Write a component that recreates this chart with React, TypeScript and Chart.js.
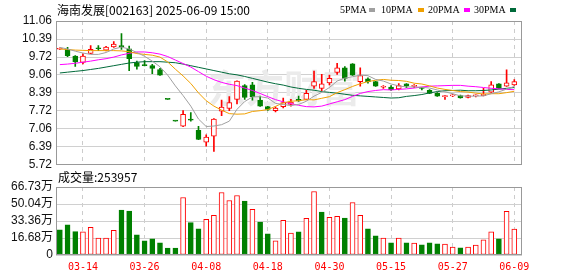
import React, { useEffect, useRef } from 'react';
import { Chart, registerables } from 'chart.js';
Chart.register(...registerables);

const dates = [
  '03-11','03-12','03-13','03-14','03-17','03-18','03-19','03-20','03-21','03-24',
  '03-25','03-26','03-27','03-28','03-31','04-01','04-02','04-03','04-07','04-08',
  '04-09','04-10','04-11','04-14','04-15','04-16','04-17','04-18','04-21','04-22',
  '04-23','04-24','04-25','04-28','04-29','04-30','05-06','05-07','05-08','05-09',
  '05-12','05-13','05-14','05-15','05-16','05-19','05-20','05-21','05-22','05-23',
  '05-26','05-27','05-28','05-29','05-30','06-03','06-04','06-05','06-06','06-09'
];
const xTickLabels = ['03-14','03-26','04-08','04-18','04-30','05-15','05-27','06-09'];

const opens = [
  10.01,10.01,9.76,9.52,9.86,10.05,9.98,10.10,10.14,10.03,
  9.52,9.41,9.40,9.26,8.15,7.34,7.15,7.40,7.00,6.56,
  6.78,7.71,7.81,8.15,8.66,8.69,8.12,7.88,7.73,7.88,
  7.96,8.15,8.15,8.64,8.56,8.76,9.15,9.32,9.47,8.81,
  8.91,8.81,8.60,8.61,8.54,8.73,8.63,8.57,8.49,8.37,
  8.25,8.28,8.29,8.22,8.28,8.29,8.42,8.73,8.64,8.69
];
const highs = [
  10.06,10.08,9.78,9.84,10.15,10.15,10.12,10.30,10.59,10.13,
  9.57,9.59,9.45,9.30,8.15,7.34,7.73,7.66,7.15,6.83,
  7.44,8.12,8.25,8.84,8.70,8.78,8.27,7.89,7.87,8.20,
  8.15,8.27,8.49,9.20,9.08,9.05,9.49,9.37,9.48,9.32,
  8.95,8.82,8.66,8.66,8.74,8.74,8.70,8.60,8.51,8.40,
  8.30,8.33,8.31,8.31,8.32,8.56,8.81,8.74,9.25,8.88
];
const lows = [
  10.00,9.74,9.37,9.47,9.85,9.96,9.95,10.08,10.00,9.22,
  9.27,9.39,9.10,9.04,8.15,7.34,7.14,7.34,6.65,6.41,
  6.22,7.54,7.73,7.98,8.15,8.12,7.89,7.74,7.68,7.83,
  7.90,8.07,8.13,8.56,8.47,8.69,9.08,8.83,9.04,8.64,
  8.75,8.63,8.56,8.48,8.50,8.58,8.58,8.50,8.36,8.26,
  8.15,8.25,8.19,8.20,8.24,8.28,8.41,8.55,8.63,8.67
];
const closes = [
  10.04,9.77,9.54,9.76,10.01,10.03,10.09,10.20,10.11,9.66,
  9.37,9.40,9.30,9.05,8.15,7.34,7.59,7.38,6.66,6.75,
  7.42,7.86,8.03,8.83,8.22,8.25,7.90,7.78,7.83,8.03,
  8.05,8.10,8.37,8.81,8.73,8.93,9.32,8.93,9.05,9.03,
  8.81,8.64,8.61,8.51,8.66,8.64,8.64,8.56,8.37,8.27,
  8.29,8.29,8.20,8.29,8.29,8.34,8.69,8.56,8.76,8.81
];

const ma5 = [
  10.08,10.02,9.94,9.87,9.82,9.82,9.89,10.02,10.09,10.02,
  9.89,9.75,9.57,9.36,9.05,8.65,8.29,7.90,7.42,7.14,
  7.16,7.21,7.34,7.78,8.07,8.24,8.25,8.20,8.00,7.96,
  7.92,7.96,8.08,8.27,8.41,8.59,8.83,8.94,8.99,9.05,
  9.03,8.89,8.83,8.72,8.65,8.61,8.61,8.60,8.57,8.50,
  8.43,8.36,8.28,8.27,8.27,8.28,8.36,8.43,8.53,8.63
];
const ma10 = [
  10.02,10.00,9.98,9.97,9.96,9.96,9.96,9.96,9.95,9.92,
  9.85,9.82,9.79,9.72,9.54,9.27,9.02,8.74,8.39,8.10,
  7.90,7.75,7.62,7.60,7.61,7.70,7.73,7.77,7.89,8.02,
  8.08,8.10,8.14,8.13,8.19,8.25,8.40,8.51,8.63,8.73,
  8.81,8.86,8.89,8.86,8.85,8.82,8.75,8.72,8.65,8.57,
  8.52,8.48,8.44,8.42,8.38,8.35,8.36,8.36,8.40,8.45
];
const ma20 = [
  9.44,9.46,9.49,9.53,9.57,9.62,9.66,9.72,9.80,9.86,
  9.91,9.91,9.88,9.83,9.74,9.61,9.48,9.35,9.18,9.01,
  8.88,8.78,8.71,8.66,8.57,8.48,8.37,8.25,8.14,8.06,
  7.99,7.93,7.88,7.87,7.90,7.98,8.06,8.14,8.26,8.37,
  8.44,8.48,8.51,8.50,8.52,8.54,8.57,8.61,8.64,8.65,
  8.66,8.67,8.67,8.64,8.62,8.59,8.56,8.54,8.52,8.51
];
const ma30 = [
  9.13,9.16,9.19,9.22,9.26,9.30,9.35,9.40,9.45,9.50,
  9.53,9.55,9.55,9.55,9.53,9.51,9.46,9.40,9.34,9.28,
  9.22,9.16,9.10,9.06,9.00,8.93,8.86,8.79,8.73,8.68,
  8.61,8.56,8.52,8.49,8.44,8.41,8.38,8.34,8.30,8.28,
  8.26,8.24,8.22,8.20,8.21,8.26,8.29,8.33,8.39,8.44,
  8.47,8.48,8.49,8.47,8.47,8.48,8.50,8.53,8.56,8.59
];

// volume in 万 (10k)
const volumes = [
  24.6,29.5,23.0,22.7,27.2,16.5,16.5,24.3,44.1,43.1,
  19.7,13.9,15.9,12.0,6.8,6.8,56.4,31.7,25.6,35.0,
  38.9,61.3,53.5,58.4,52.8,44.7,32.4,20.7,13.9,34.0,
  21.4,22.7,36.0,62.3,42.1,37.0,37.9,36.3,51.5,38.9,
  25.6,18.8,16.5,12.0,16.5,12.0,11.7,10.0,12.0,11.0,
  10.7,7.8,7.1,7.8,9.7,14.9,22.7,15.9,42.8,25.4
];
// 1 = red (up) volume bar, 0 = green
const volumeUp = [
  0,0,0,1,1,1,1,1,0,0,
  0,0,0,0,0,0,1,0,0,1,
  1,1,1,1,0,1,0,0,1,1,
  1,0,1,1,0,1,1,0,1,1,
  0,0,1,0,1,0,1,0,0,0,
  1,1,0,1,1,1,1,0,1,1
];
const lastVolume = 253957;

const priceTicks = [5.72, 6.39, 7.06, 7.72, 8.39, 9.06, 9.72, 10.39, 11.06];
const volumeTicks = [0, 16.68, 33.36, 50.04, 66.73];

const seriesLegend = [
  { label: '5PMA', color: '#a0a0a0' },
  { label: '10PMA', color: '#f0a000' },
  { label: '20PMA', color: '#ff00ff' },
  { label: '30PMA', color: '#006a3a' },
];

const RED = '#ff0000';
const GREEN = '#008000';

const framePlugin = (color: string) => ({
  id: 'frame',
  afterDraw(chart: any) {
    const { ctx, chartArea } = chart;
    const l = Math.round(chartArea.left) + 0.5;
    const t = Math.round(chartArea.top) + 0.5;
    const r = Math.round(chartArea.right) - 0.5;
    const b = Math.round(chartArea.bottom) - 0.5;
    ctx.save();
    ctx.strokeStyle = color;
    ctx.lineWidth = 1;
    ctx.strokeRect(l, t, r - l, b - t);
    ctx.restore();
  },
});

const watermarkPlugin = {
  id: 'watermark',
  beforeDatasetsDraw(chart: any) {
    const { ctx, chartArea } = chart;
    ctx.save();
    ctx.fillStyle = '#ebebeb';
    ctx.font = 'bold 38px "Noto Sans CJK SC"';
    ctx.textAlign = 'center';
    ctx.textBaseline = 'middle';
    ctx.fillText('东方财富', chartArea.left + 228, chartArea.top + 67);
    ctx.restore();
  },
};

const tickIdx = xTickLabels.map((d) => dates.indexOf(d));

function xScale(showLabels: boolean) {
  return {
    type: 'linear' as const,
    min: -0.5,
    max: 60,
    offset: false,
    afterBuildTicks: (s: any) => {
      s.ticks = tickIdx.map((v) => ({ value: v }));
    },
    afterFit: (s: any) => {
      s.height = showLabels ? 21 : 0;
    },
    ticks: {
      display: showLabels,
      autoSkip: false,
      maxRotation: 0,
      padding: 6,
      color: RED,
      font: { family: '"DejaVu Sans Mono"', size: 10 },
      callback: (v: any) => dates[Number(v)] ?? '',
    },
    grid: { color: '#cccccc', drawTicks: false, offset: false },
    border: { display: false, dash: [4, 4] },
  };
}

export default function App() {
  const priceRef = useRef<HTMLCanvasElement>(null);
  const volRef = useRef<HTMLCanvasElement>(null);

  useEffect(() => {
    const idx = dates.map((_, i) => i);
    const up = closes.map((c, i) => c > opens[i]);
    const line = (label: string, data: number[], color: string) => ({
      type: 'line' as const,
      label,
      data: idx.map((i) => ({ x: i, y: data[i] })),
      borderColor: color,
      borderWidth: 1,
      pointRadius: 0,
      tension: 0,
      fill: false,
    });

    const price = new Chart(priceRef.current!, {
      type: 'bar',
      data: {
        datasets: [
          line(seriesLegend[0].label, ma5, seriesLegend[0].color),
          line(seriesLegend[1].label, ma10, seriesLegend[1].color),
          line(seriesLegend[2].label, ma20, seriesLegend[2].color),
          line(seriesLegend[3].label, ma30, seriesLegend[3].color),
          {
            type: 'bar',
            label: 'body',
            data: idx.map((i) => ({ x: i, y: [opens[i], closes[i]] })) as any,
            backgroundColor: up.map((u) => (u ? '#ffffff' : GREEN)),
            borderColor: up.map((u) => (u ? RED : GREEN)),
            borderWidth: 1,
            borderSkipped: false,
            barThickness: 5,
            minBarLength: 1,
            grouped: false,
          } as any,
          {
            type: 'bar',
            label: 'wick',
            data: idx.map((i) => ({ x: i, y: [lows[i], highs[i]] })) as any,
            backgroundColor: up.map((u) => (u ? RED : GREEN)),
            borderWidth: 0,
            barThickness: 1,
            grouped: false,
          } as any,
        ],
      },
      options: {
        animation: false,
        responsive: false,
        devicePixelRatio: 1,
        events: [],
        layout: { padding: { top: 21, bottom: 10.5, left: 0, right: 56 } },
        plugins: { legend: { display: false }, tooltip: { enabled: false } },
        scales: {
          x: xScale(false) as any,
          y: {
            type: 'linear',
            min: priceTicks[0],
            max: priceTicks[priceTicks.length - 1],
            afterBuildTicks: (s: any) => {
              s.ticks = priceTicks.map((v) => ({ value: v }));
            },
            afterFit: (s: any) => {
              s.width = 56;
            },
            ticks: {
              autoSkip: false,
              padding: 4,
              color: '#111',
              font: { family: '"Liberation Sans"', size: 12 },
              callback: (v: any) => Number(v).toFixed(2),
            },
            grid: { color: '#d0d0d0', drawTicks: false },
            border: { display: false },
          } as any,
        },
      },
      plugins: [watermarkPlugin, framePlugin('#999999')],
    });

    const vol = new Chart(volRef.current!, {
      type: 'bar',
      data: {
        datasets: [
          {
            label: '成交量',
            data: idx.map((i) => ({ x: i, y: volumes[i] })) as any,
            backgroundColor: volumeUp.map((u) => (u ? '#ffffff' : GREEN)),
            borderColor: volumeUp.map((u) => (u ? RED : GREEN)),
            borderWidth: 1,
            borderSkipped: false,
            barThickness: 5,
            grouped: false,
          } as any,
        ],
      },
      options: {
        animation: false,
        responsive: false,
        devicePixelRatio: 1,
        events: [],
        layout: { padding: { top: 21, bottom: 0, left: 0, right: 56 } },
        plugins: { legend: { display: false }, tooltip: { enabled: false } },
        scales: {
          x: xScale(true) as any,
          y: {
            type: 'linear',
            min: 0,
            max: volumeTicks[volumeTicks.length - 1],
            afterBuildTicks: (s: any) => {
              s.ticks = volumeTicks.map((v) => ({ value: v }));
            },
            afterFit: (s: any) => {
              s.width = 56;
            },
            ticks: {
              autoSkip: false,
              padding: 3,
              color: '#111',
              font: { family: '"Liberation Sans", "Noto Sans CJK SC"', size: 12 },
              callback: (v: any) => (Number(v) === 0 ? '0' : Number(v).toFixed(2) + '万'),
            },
            grid: { color: '#d0d0d0', drawTicks: false },
            border: { display: false },
          } as any,
        },
      },
      plugins: [framePlugin('#999999')],
    });

    return () => {
      price.destroy();
      vol.destroy();
    };
  }, []);

  const legendX = [340, 381, 428, 474];
  const legendSquareX = [369, 418, 464, 510];

  return (
    <div
      style={{
        position: 'absolute',
        left: 0,
        top: 0,
        width: 578,
        height: 276,
        background: '#fff',
        overflow: 'hidden',
      }}
    >
      <canvas ref={priceRef} width={578} height={176} style={{ position: 'absolute', left: 0, top: 0 }} />
      <canvas ref={volRef} width={578} height={110} style={{ position: 'absolute', left: 0, top: 166 }} />
      <div
        style={{
          position: 'absolute',
          left: 57,
          top: 2,
          font: '12px "Noto Sans CJK SC"',
          lineHeight: '16px',
          color: '#000',
          whiteSpace: 'nowrap',
        }}
      >
        海南发展[002163] 2025-06-09 15:00
      </div>
      {seriesLegend.map((s, k) => (
        <React.Fragment key={s.label}>
          <div
            style={{
              position: 'absolute',
              left: legendX[k],
              top: 4,
              font: '10px "Liberation Serif"',
              lineHeight: '12px',
              color: '#000',
              whiteSpace: 'nowrap',
            }}
          >
            {s.label}
          </div>
          <div
            style={{
              position: 'absolute',
              left: legendSquareX[k],
              top: 8,
              width: 6,
              height: 4,
              background: s.color,
            }}
          />
        </React.Fragment>
      ))}
      <div
        style={{
          position: 'absolute',
          left: 58,
          top: 169,
          font: '12px "Noto Sans CJK SC"',
          lineHeight: '16px',
          color: '#000',
          whiteSpace: 'nowrap',
        }}
      >
        成交量:{lastVolume}
      </div>
    </div>
  );
}
